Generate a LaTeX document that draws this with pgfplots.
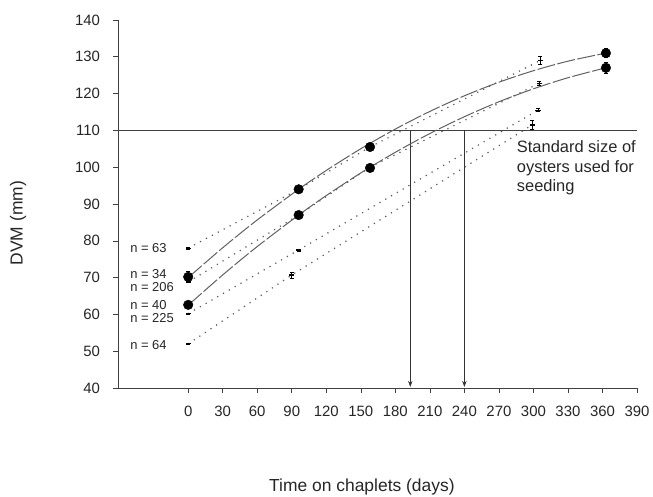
\documentclass[border=0pt]{standalone}
\usepackage{pgfplots}
\pgfplotsset{compat=1.18}
\usepackage{fontspec}
\setmainfont{Liberation Sans}
\usetikzlibrary{arrows.meta}
\definecolor{curvegray}{gray}{0.38}
\definecolor{dotgray}{gray}{0.35}
\begin{document}
\begin{tikzpicture}
\begin{axis}[
  scale only axis, width=519bp, height=368bp,
  xmin=-61, xmax=390, ymin=40, ymax=140,
  axis x line*=bottom, axis y line*=left,
  axis line style={line width=0.7bp, black!75, -},
  xtick={0,30,...,390}, ytick={40,50,...,140},
  tick align=outside, major tick length=4.5bp,
  tick style={line width=0.6bp, black!75},
  /pgf/number format/assume math mode=true,
  tick label style={font=\fontsize{15}{17}\selectfont, black!85},
  xticklabel style={yshift=-10bp},
  yticklabel style={xshift=-10bp},
  xlabel={Time on chaplets (days)},
  ylabel={DVM (mm)},
  every axis x label/.style={at={(axis description cs:0.470,0)}, yshift=-99bp, anchor=center, font=\fontsize{17.5}{19}\selectfont, black!85},
  every axis y label/.style={at={(axis description cs:0,0.448)}, xshift=-100bp, rotate=90, anchor=center, font=\fontsize{17.5}{19}\selectfont, black!85},
  clip=false,
]
% reference line at 110
\addplot[black!75, line width=0.8bp] coordinates {(-61,110) (390,110)};
% arrows
\addplot[black!80, line width=0.8bp, -{Stealth[length=6bp,width=4.5bp]}] coordinates {(193,110) (193,40.3)};
\addplot[black!80, line width=0.8bp, -{Stealth[length=6bp,width=4.5bp]}] coordinates {(240,110) (240,40.3)};
% fitted curves
\addplot[curvegray, line width=1bp, dash pattern=on 18bp off 2.5bp, smooth] coordinates {
(0,70) (30,78.11) (60,85.67) (96,94.0) (120,99.12) (150,105.02) (180,110.36) (210,115.16) (240,119.40) (270,123.09) (300,126.22) (330,128.81) (363,131.01)};
\addplot[curvegray, line width=1bp, dash pattern=on 18bp off 2.5bp, smooth] coordinates {
(0,62.5) (30,70.73) (60,78.44) (96,87.0) (120,92.29) (150,98.44) (180,104.05) (210,109.15) (240,113.72) (270,117.78) (300,121.30) (330,124.31) (363,127.02)};
% cohort dotted lines
\pgfplotsset{cohort/.style={dotgray, line width=1.2bp, dash pattern=on 1.2bp off 5.5bp, mark=-, mark size=2.6bp, mark options={solid, black, line width=1.3bp},
  error bars/.cd, y dir=both, y explicit, error bar style={solid, black, line width=0.6bp}, error mark options={rotate=90, mark size=2bp, black, line width=0.6bp}}}
\addplot[cohort] coordinates {(0,78) +- (0,0.2) (96,94) +- (0,0) (158,105.5) +- (0,0) (306,129) +- (0,1.0)};
\addplot[cohort] coordinates {(0,68.8) +- (0,0.2) (96,87) +- (0,0) (158,100) +- (0,0) (305,122.8) +- (0,0.6)};
\addplot[cohort] coordinates {(0,60.2) +- (0,0.2) (96,77.5) +- (0,0.3) (304,115.5) +- (0,0.4)};
\addplot[cohort] coordinates {(0,52) +- (0,0.2) (90,70.7) +- (0,0.8) (299,111.5) +- (0,1.2)};
% mean points
\addplot[only marks, mark=*, mark size=4.8bp, black, error bars/.cd, y dir=both, y explicit, error bar style={black, line width=0.7bp}, error mark options={rotate=90, mark size=2.2bp, black, line width=0.7bp}] coordinates {
(0,70.2) +- (0,1.6) (96,94) +- (0,0.4) (158,105.5) +- (0,0.4) (363,131) +- (0,1.2)};
\addplot[only marks, mark=*, mark size=4.8bp, black, error bars/.cd, y dir=both, y explicit, error bar style={black, line width=0.7bp}, error mark options={rotate=90, mark size=2.2bp, black, line width=0.7bp}] coordinates {
(0,62.6) +- (0,0.8) (96,87) +- (0,0.5) (158,99.8) +- (0,0.4) (363,127) +- (0,1.6)};
% sample size labels
\begin{scope}[every node/.style={anchor=west, font=\fontsize{13}{15}\selectfont, black!85, inner sep=0pt}]
\node at (axis cs:-50.5,78.0) {n = 63};
\node at (axis cs:-50.5,71.0) {n = 34};
\node at (axis cs:-50.5,67.4) {n = 206};
\node at (axis cs:-50.5,62.6) {n = 40};
\node at (axis cs:-50.5,59.0) {n = 225};
\node at (axis cs:-50.5,51.7) {n = 64};
\end{scope}
\node[anchor=north west, align=left, inner sep=0pt, font=\fontsize{16.5}{20}\selectfont, black!85] at (axis cs:285.5,107.4) {Standard size of\\oysters used for\\seeding};
\end{axis}
\pgfresetboundingbox
\path (-118bp,-109bp) rectangle (535bp,388bp);
\end{tikzpicture}
\end{document}
